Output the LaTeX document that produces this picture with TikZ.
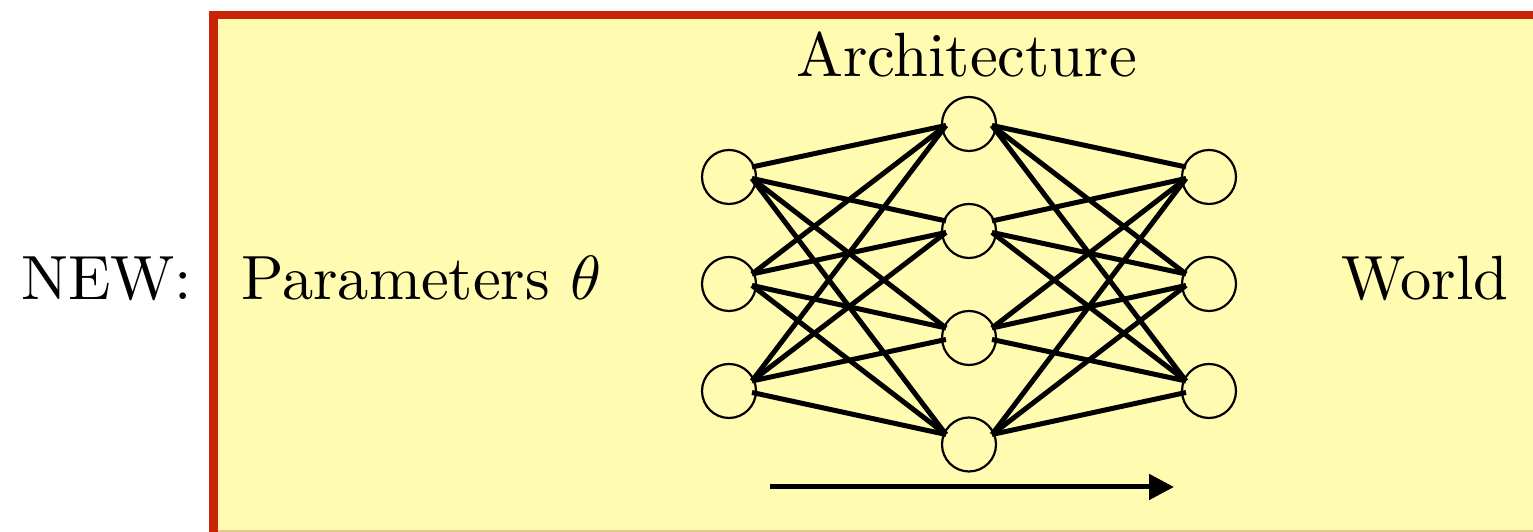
\documentclass[tikz,border=0pt]{standalone}
\usetikzlibrary{calc,arrows.meta}
\definecolor{boxfill}{RGB}{255,251,177}
\definecolor{boxred}{RGB}{200,36,8}
\definecolor{boxtan}{RGB}{228,200,140}
\tikzset{
  neuron/.style={circle,draw=black,line width=0.35pt,minimum size=8.64pt,inner sep=0pt},
  edge/.style={line width=0.8pt,black},
  label/.style={anchor=base west,inner sep=0pt,font=\normalsize}
}
\begin{document}
\begin{tikzpicture}[x=0.16pt,y=-0.16pt]
\useasboundingbox (0,0) rectangle (1533,532);
\clip (0,0) rectangle (1533,532);
% box
\fill[boxfill] (213.5,15) rectangle (1560,560);
\draw[boxtan,line width=0.2pt] (213.5,531) -- (1560,531);
\draw[boxred,line width=1.3pt] (213.5,560) -- (213.5,15) -- (1560,15);
% texts
\node[label] (new) at (20,300) {NEW:};
\node[label] (par) at (240,300) {Parameters $\theta$};
\node[label] (arch) at (795,77) {Architecture};
\node[label] (world) at (1340,300) {World};
% neurons
\node[neuron] (L1) at (729,177) {};
\node[neuron] (L2) at (729,284) {};
\node[neuron] (L3) at (729,391) {};
\node[neuron] (M1) at (969,124) {};
\node[neuron] (M2) at (969,231) {};
\node[neuron] (M3) at (969,338) {};
\node[neuron] (M4) at (969,444.5) {};
\node[neuron] (R1) at (1209,177) {};
\node[neuron] (R2) at (1209,284) {};
\node[neuron] (R3) at (1209,391) {};
% edges left-middle
\foreach \i in {1,2,3}{\foreach \j in {1,2,3,4}{
  \ifnum\j>\i \def\offA{1.5}\def\offB{-10}\else\def\offA{-10}\def\offB{1.5}\fi
  \draw[edge] ($(L\i.center)+(23,\offA)$) -- ($(M\j.center)+(-23,\offB)$);
}}
% edges middle-right
\foreach \j in {1,2,3,4}{\foreach \k in {1,2,3}{
  \ifnum\k<\j \def\offA{-10}\def\offB{1.5}\else\def\offA{1.5}\def\offB{-10}\fi
  \draw[edge] ($(M\j.center)+(23,\offA)$) -- ($(R\k.center)+(-23,\offB)$);
}}
% arrow
\coordinate (as) at (770,487);
\coordinate (ae) at (1174,487);
\draw[edge,-{Triangle[length=4pt,width=4pt]}] (as) -- (ae);
\end{tikzpicture}
\end{document}
